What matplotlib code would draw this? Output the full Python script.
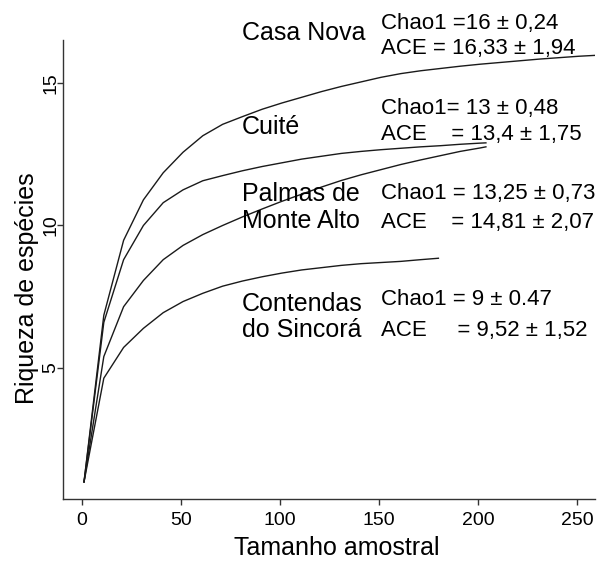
import matplotlib

matplotlib.use("Agg")
import matplotlib.pyplot as plt

plt.rcParams["font.family"] = ["Liberation Sans", "DejaVu Sans"]

# sample sizes (rarefaction steps) and richness per site
x_casa = [1, 11, 21, 31, 41, 51, 61, 71, 81, 91, 101, 111, 121, 131, 141, 151,
          161, 171, 181, 191, 201, 211, 221, 231, 241, 251, 259]
y_casa = [1.0, 6.85, 9.48, 10.9, 11.85, 12.57, 13.15, 13.55, 13.82, 14.08, 14.3,
          14.5, 14.7, 14.88, 15.04, 15.2, 15.33, 15.43, 15.51, 15.59, 15.66,
          15.72, 15.78, 15.84, 15.89, 15.94, 15.97]

x_cuite = [1, 11, 21, 31, 41, 51, 61, 71, 81, 91, 101, 111, 121, 131, 141, 151,
           161, 171, 181, 191, 201, 204]
y_cuite = [1.0, 6.6, 8.8, 10.0, 10.8, 11.25, 11.57, 11.75, 11.92, 12.07, 12.2,
           12.33, 12.43, 12.53, 12.6, 12.66, 12.71, 12.76, 12.8, 12.85, 12.89, 12.9]

x_palmas = [1, 11, 21, 31, 41, 51, 61, 71, 81, 91, 101, 111, 121, 131, 141, 151,
            161, 171, 181, 191, 201, 204]
y_palmas = [1.0, 5.4, 7.15, 8.07, 8.8, 9.3, 9.68, 10.0, 10.3, 10.58, 10.85,
            11.1, 11.35, 11.58, 11.78, 11.96, 12.14, 12.3, 12.45, 12.6, 12.72, 12.76]

x_contendas = [1, 11, 21, 31, 41, 51, 61, 71, 81, 91, 101, 111, 121, 131, 141,
               151, 161, 171, 180]
y_contendas = [1.0, 4.64, 5.72, 6.39, 6.94, 7.33, 7.62, 7.87, 8.05, 8.2, 8.33,
               8.44, 8.52, 8.6, 8.66, 8.7, 8.74, 8.8, 8.85]

site_names = ["Casa Nova", "Cuité", "Palmas de\nMonte Alto", "Contendas\ndo Sincorá"]
chao_texts = ["Chao1 =16 ± 0,24", "Chao1= 13 ± 0,48", "Chao1 = 13,25 ± 0,73",
              "Chao1 = 9 ± 0.47"]
ace_texts = ["ACE = 16,33 ± 1,94", "ACE    = 13,4 ± 1,75", "ACE    = 14,81 ± 2,07",
             "ACE     = 9,52 ± 1,52"]

fig = plt.figure(figsize=(5.98, 5.61), dpi=100, facecolor="white")
ax = fig.add_axes([0.1054, 0.1105, 0.8896, 0.8182])

for xs, ys in [(x_casa, y_casa), (x_cuite, y_cuite), (x_palmas, y_palmas),
               (x_contendas, y_contendas)]:
    ax.plot(xs, ys, color="#1a1a1a", linewidth=1.0)

ax.set_xlim(-9.6, 259.1)
ax.set_ylim(0.4, 16.51)
ax.set_xticks([0, 50, 100, 150, 200, 250])
ax.set_yticks([5, 10, 15])
ax.spines["top"].set_visible(False)
ax.spines["right"].set_visible(False)
for s in ("left", "bottom"):
    ax.spines[s].set_color("#333333")
    ax.spines[s].set_linewidth(1.0)
ax.tick_params(axis="both", length=4.5, width=1.0, color="#333333", labelsize=14)
ax.tick_params(axis="x", pad=5)
ax.tick_params(axis="y", pad=-2)
for lbl in ax.get_yticklabels():
    lbl.set_rotation(90)
    lbl.set_va("center")

# text blocks, y in data units
name_y = [16.75, 13.46, 10.63, 6.79]
stat_y = [(17.1, 16.22), (14.12, 13.18), (11.14, 10.12), (7.39, 6.33)]
for i, name in enumerate(site_names):
    ax.text(80.8, name_y[i], name, fontsize=18, ha="left", va="center",
            linespacing=1.15, clip_on=False)
    ax.text(151, stat_y[i][0], chao_texts[i], fontsize=16, ha="left",
            va="center", clip_on=False)
    ax.text(151, stat_y[i][1], ace_texts[i], fontsize=16, ha="left",
            va="center", clip_on=False)

fig.text(337 / 598, 1 - 548 / 561, "Tamanho amostral", fontsize=18,
         ha="center", va="center")
fig.text(27 / 598, 1 - 288 / 561, "Riqueza de espécies", fontsize=18,
         ha="center", va="center", rotation=90)

fig.savefig("out.png", dpi=100, facecolor="white")
